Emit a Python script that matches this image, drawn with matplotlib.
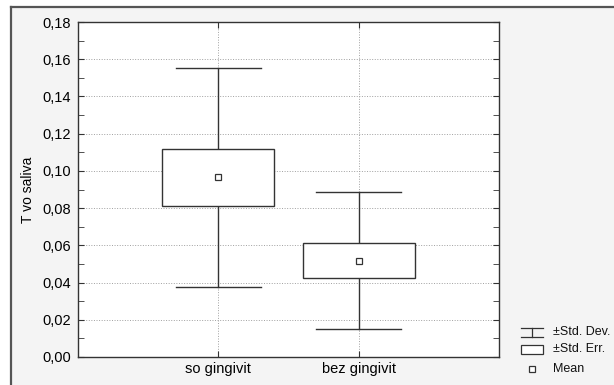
import numpy as np
import matplotlib
matplotlib.use("Agg")
from matplotlib import pyplot as plt
from matplotlib.patches import Rectangle
from matplotlib.lines import Line2D

groups = ["so gingivit", "bez gingivit"]
means = [0.0965, 0.0517]
std_err = [0.0153, 0.0095]
std_dev = [0.0590, 0.0369]
y_ticks = [0.00, 0.02, 0.04, 0.06, 0.08, 0.10, 0.12, 0.14, 0.16, 0.18]

plt.rcParams['font.family'] = ['Liberation Sans', 'DejaVu Sans']
W, H = 614, 385
fig = plt.figure(figsize=(W / 100, H / 100), dpi=100, facecolor='white')

# panel background with sunken frame
fig.patches.append(Rectangle((11 / W, 0), 1 - 11 / W, 1 - 7 / H, transform=fig.transFigure,
                             facecolor='#f4f4f4', edgecolor='none', zorder=-5))
fig.lines.append(Line2D([11 / W, 11 / W], [0, 1 - 7 / H], transform=fig.transFigure,
                        color='#555555', lw=1.6, zorder=-4))
fig.lines.append(Line2D([11 / W, 1], [1 - 7 / H, 1 - 7 / H], transform=fig.transFigure,
                        color='#555555', lw=1.6, zorder=-4))

ax = fig.add_axes([78 / W, 28 / H, (499 - 78) / W, (357 - 22) / H])
ax.set_facecolor('white')
x = np.arange(len(groups))
col = '#333333'
for xi, m, se, sd in zip(x, means, std_err, std_dev):
    ax.plot([xi, xi], [m - sd, m - se], color=col, lw=1.0, zorder=3)
    ax.plot([xi, xi], [m + se, m + sd], color=col, lw=1.0, zorder=3)
    ax.plot([xi - 0.305, xi + 0.305], [m + sd, m + sd], color=col, lw=1.0, zorder=3)
    ax.plot([xi - 0.305, xi + 0.305], [m - sd, m - sd], color=col, lw=1.0, zorder=3)
    ax.add_patch(Rectangle((xi - 0.4, m - se), 0.8, 2 * se, facecolor='white',
                           edgecolor=col, lw=1.0, zorder=3))
    ax.plot(xi, m, marker='s', ms=4, mfc='white', mec=col, mew=0.9, zorder=4)

ax.set_xlim(-1, 2)
ax.set_ylim(0, 0.18)
ax.set_xticks(x)
ax.set_xticklabels(groups, fontsize=10.5)
ax.set_yticks(y_ticks)
ax.set_yticklabels([f"{v:.2f}".replace('.', ',') for v in y_ticks], fontsize=10.5)
ax.set_yticks(np.arange(0.01, 0.18, 0.02), minor=True)
ax.tick_params(which='both', direction='in', top=True, right=True, length=4, color=col)
ax.tick_params(axis='y', pad=5)
ax.grid(True, which='major', linestyle=':', color='#a0a0a0', lw=0.7)
ax.set_axisbelow(True)
for s in ax.spines.values():
    s.set_color(col)
    s.set_linewidth(1.0)
ax.set_ylabel("T vo saliva", fontsize=10, labelpad=5)

# legend
def fx(px):
    return px / W

def fy(py):
    return 1 - py / H

lw = 0.9
fig.lines.append(Line2D([fx(521), fx(543)], [fy(328), fy(328)], transform=fig.transFigure, color=col, lw=lw))
fig.lines.append(Line2D([fx(521), fx(543)], [fy(337), fy(337)], transform=fig.transFigure, color=col, lw=lw))
fig.lines.append(Line2D([fx(532), fx(532)], [fy(328), fy(337)], transform=fig.transFigure, color=col, lw=lw))
fig.patches.append(Rectangle((fx(521), fy(354)), fx(543) - fx(521), fy(345) - fy(354),
                             transform=fig.transFigure, facecolor='white', edgecolor=col, lw=lw))
fig.lines.append(Line2D([fx(532)], [fy(369)], transform=fig.transFigure, marker='s', ms=4,
                        mfc='white', mec=col, mew=0.9))
for ty, txt in [(332, "±Std. Dev."), (349, "±Std. Err."), (369, "Mean")]:
    fig.text(fx(553), fy(ty), txt, fontsize=9, va='center', ha='left', color='#111111')

fig.savefig("out.png", dpi=100, facecolor=fig.get_facecolor())
